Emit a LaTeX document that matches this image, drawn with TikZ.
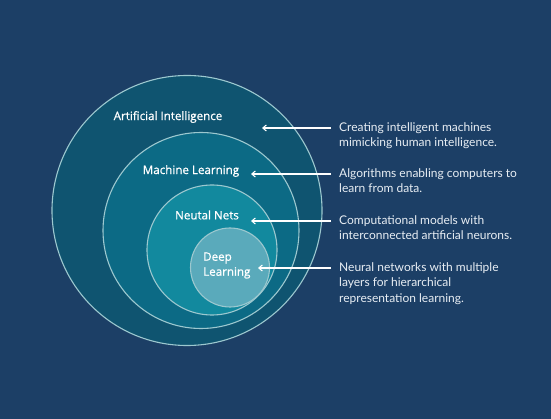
\documentclass[tikz,border=0pt]{standalone}
\usepackage{fontspec}
\setmainfont{Lato}
\newfontfamily\labfont[FakeBold=0.8]{Open Sans}
\usetikzlibrary{arrows.meta}
\definecolor{bgc}{HTML}{1C3F66}
\definecolor{aic}{HTML}{0F5470}
\definecolor{mlc}{HTML}{0C6A85}
\definecolor{nnc}{HTML}{12899E}
\definecolor{dlc}{HTML}{5AAABB}
\definecolor{rimc}{HTML}{9CC8CF}
\definecolor{descc}{HTML}{E8EEF4}
\begin{document}
\begin{tikzpicture}[x=1pt,y=-1pt,
  ring/.style={circle,draw=rimc,line width=1.1pt,inner sep=0pt},
  lab/.style={text=white,font=\labfont\fontsize{11.6}{15}\selectfont,inner sep=0pt},
  desc/.style={text=descc,font=\fontsize{12}{15.5}\selectfont,inner sep=0pt,anchor=north west,align=left},
  arr/.style={draw=white,line width=1.1pt,-{Straight Barb[length=3.5pt,width=6pt]}}]
\fill[bgc] (0,0) rectangle (551,419);
\useasboundingbox (0,0) rectangle (551,419);
\node[ring,fill=aic,minimum size=270pt] (ai) at (187,210.5) {};
\node[ring,fill=mlc,minimum size=196pt] (ml) at (201,230.5) {};
\node[ring,fill=nnc,minimum size=130pt] (nn) at (212,250) {};
\node[ring,fill=dlc,minimum size=79pt] (dl) at (230,267.5) {};
\node[lab] (ail) at (168,117) {Artificial Intelligence};
\node[lab] (mll) at (191,171) {Machine Learning};
\node[lab] (nnl) at (207,215) {Neutal Nets};
\node[lab,anchor=west,align=left] (dll) at (203,265.5) {Deep\\Learning};
\coordinate (ait) at (262,128);
\coordinate (mlt) at (251,174);
\coordinate (nnt) at (251,221);
\coordinate (dlt) at (258,268);
\node[desc] (aid) at (339,122) {Creating intelligent machines\\mimicking human intelligence.};
\node[desc] (mld) at (339,168) {Algorithms enabling computers to\\learn from data.};
\node[desc] (nnd) at (339,215) {Computational models with\\interconnected artificial neurons.};
\node[desc] (dld) at (339,262) {Neural networks with multiple\\layers for hierarchical\\representation learning.};
\draw[arr] (aid.north west |- ait) ++(-8,0) coordinate (ais) -- (ait);
\draw[arr] (mld.north west |- mlt) ++(-8,0) coordinate (mls) -- (mlt);
\draw[arr] (nnd.north west |- nnt) ++(-8,0) coordinate (nns) -- (nnt);
\draw[arr] (dld.north west |- dlt) ++(-8,0) coordinate (dls) -- (dlt);
\end{tikzpicture}
\end{document}
